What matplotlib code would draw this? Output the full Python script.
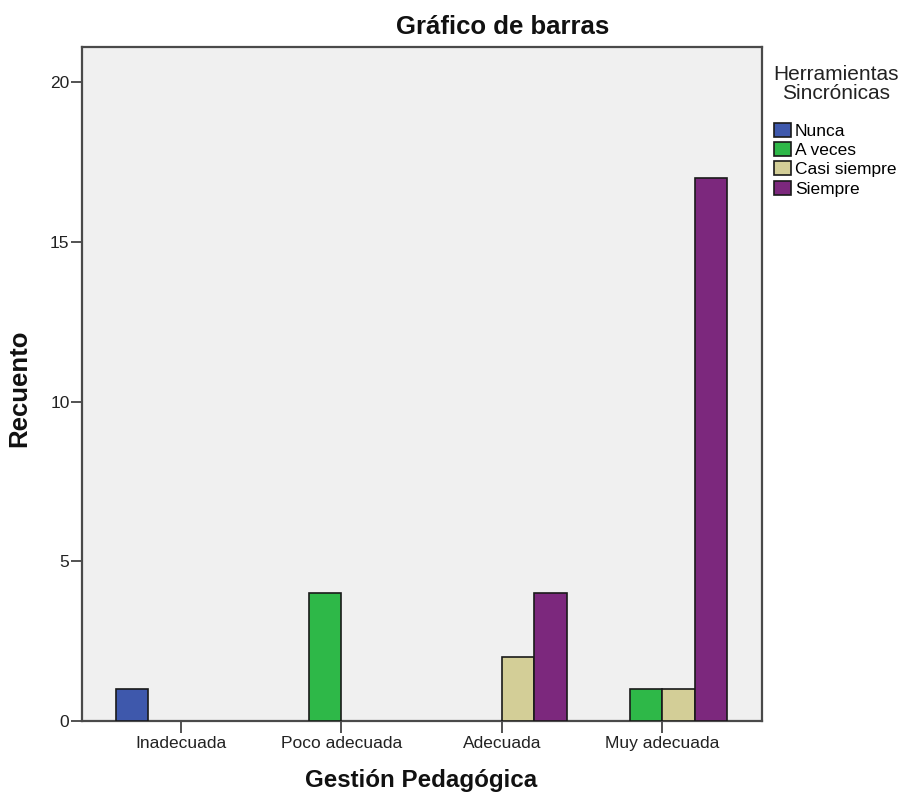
import matplotlib
matplotlib.use('Agg')
import matplotlib.pyplot as plt
import numpy as np

# data
categories = ['Inadecuada', 'Poco adecuada', 'Adecuada', 'Muy adecuada']
series = ['Nunca', 'A veces', 'Casi siempre', 'Siempre']
nunca = [1, 0, 0, 0]
a_veces = [0, 4, 0, 1]
casi_siempre = [0, 0, 2, 1]
siempre = [0, 0, 4, 17]
colors = ['#3E58AC', '#2EB848', '#D3CE97', '#7C287D']
y_ticks = [0, 5, 10, 15, 20]

plt.rcParams['font.family'] = ['Liberation Sans', 'DejaVu Sans']

W, H = 902, 794
fig = plt.figure(figsize=(W / 100, H / 100), dpi=100)
ax = fig.add_axes([82 / W, 1 - 721 / H, (762 - 82) / W, (721 - 47) / H])
ax.set_facecolor('#F0F0F0')

width = 0.2025
xx = np.arange(len(categories))
for j, vals in enumerate([nunca, a_veces, casi_siempre, siempre]):
    vals = np.array(vals, dtype=float)
    mask = vals > 0
    ax.bar(xx[mask] + (j - 1.5) * width, vals[mask], width=width,
           color=colors[j], edgecolor='#1a1a1a', linewidth=1.2,
           label=series[j], zorder=3)

ax.set_xlim(-0.614, 3.62)
ax.set_ylim(0, 21.1)
ax.set_xticks(xx)
ax.set_xticklabels(categories, fontsize=12.5, color='#222222')
ax.set_yticks(y_ticks)
ax.set_yticklabels([str(v) for v in y_ticks], fontsize=12.5, color='#222222')
ax.tick_params(axis='x', length=8.5, width=1.3, color='#444444', pad=2)
ax.tick_params(axis='y', length=8, width=1.3, color='#444444', pad=1)
for s in ax.spines.values():
    s.set_color('#4a4a4a')
    s.set_linewidth(1.6)

# legend (title drawn separately to get the gap of the reference)
leg = ax.legend(loc='upper left',
                bbox_to_anchor=(774 / W, 1 - 123 / H), bbox_transform=fig.transFigure,
                frameon=False, fontsize=12.5,
                borderpad=0, borderaxespad=0, handlelength=1.0, handleheight=0.85,
                handletextpad=0.2, labelspacing=0.19)
for p in leg.get_patches():
    p.set_edgecolor('#1a1a1a')
    p.set_linewidth(1.2)
fig.text(836 / W, 1 - 84 / H, 'Herramientas\nSincrónicas', ha='center', va='center',
         multialignment='center', fontsize=15, linespacing=1.05, color='#222222')

fig.text(503 / W, 1 - 27 / H, 'Gráfico de barras', ha='center', va='center',
         fontsize=18.5, fontweight='bold', color='#111111')
fig.text(421 / W, 1 - 781 / H, 'Gestión Pedagógica', ha='center', va='center',
         fontsize=17.4, fontweight='bold', color='#111111')
fig.text(19 / W, 1 - 388 / H, 'Recuento', ha='center', va='center', rotation=90,
         fontsize=18.5, fontweight='bold', color='#111111')

fig.savefig('out.png', dpi=100, facecolor='white')
